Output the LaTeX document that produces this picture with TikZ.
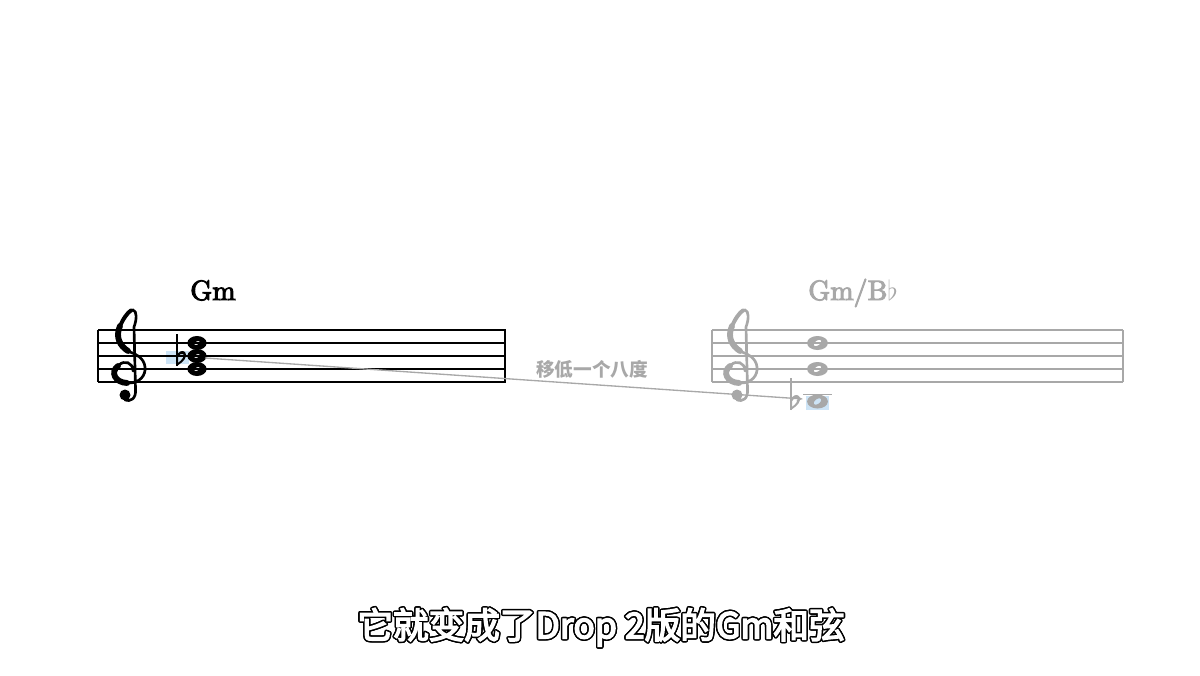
\documentclass[tikz,border=0pt]{standalone}
\usepackage{fontspec}
\usepackage{contour}
\usetikzlibrary{arrows.meta}
\newfontfamily\cjk{Noto Sans CJK SC}
\newfontfamily\cjksub{Noto Sans CJK SC}[FakeBold=4]
\newfontfamily\chordfont{lmroman10-regular.otf}[FakeBold=3.5]
\definecolor{staffgray}{RGB}{168,168,168}
\definecolor{hlblue}{RGB}{205,228,246}
\contourlength{1.1pt}
\tikzset{
  trebleclef/.pic={
    \draw[line width=2, line cap=round] (5,2) .. controls (5,-7) and (-4,-9) .. (-9,-4)
      .. controls (-18,2) and (-13,14) .. (1,14)
      .. controls (12,14) and (18,6) .. (17,-2)
      .. controls (16,-11) and (8,-15) .. (2,-17)
      .. controls (-8,-23) and (-13,-32) .. (-8,-43)
      .. controls (-4,-52) and (2,-60) .. (5,-59)
      .. controls (9,-58) and (9,-50) .. (6,-42)
      -- (7.5,20) .. controls (8.5,30) and (2,33) .. (-3,31);
    \draw[line width=4.4, line cap=round] (-10,-3) .. controls (-18,3) and (-13,13.5) .. (-1,14);
    \draw[line width=4.4, line cap=round] (0,-18) .. controls (-8,-23) and (-13,-32) .. (-8,-43);
    \draw[line width=3, line cap=round] (-8,-43) .. controls (-5,-50) and (0,-57) .. (3,-58.5);
    \fill (-3,26) circle [radius=5.5];
  },
  flatsign/.pic={
    \draw[line width=1.4] (0,1) -- (0,-31);
    \fill[even odd rule] (0,1) .. controls (6,-3) and (12,-9) .. (8,-13)
      .. controls (5,-15.5) and (1.5,-13) .. (0,-10) -- cycle
      (1.2,-2.2) .. controls (5,-5) and (8,-9) .. (6.3,-11)
      .. controls (4.8,-12.5) and (2,-10.5) .. (1.2,-8) -- cycle;
  },
  headbold/.pic={
    \fill[even odd rule] (0,0) ellipse [x radius=9.6, y radius=7]
      plot[domain=0:360, samples=30, variable=\u]
      ({2.9*cos(\u)*cos(30)+1.6*sin(\u)*sin(30)},{-2.9*cos(\u)*sin(30)+1.6*sin(\u)*cos(30)}) -- cycle;
  },
  headopen/.pic={
    \fill[even odd rule] (0,0) ellipse [x radius=10.4, y radius=7]
      plot[domain=0:360, samples=30, variable=\u]
      ({4.2*cos(\u)*cos(35)+2.4*sin(\u)*sin(35)},{-4.2*cos(\u)*sin(35)+2.4*sin(\u)*cos(35)}) -- cycle;
  },
  chordname/.style={font=\chordfont\fontsize{21}{24}\selectfont, anchor=base west, inner sep=0}
}
\begin{document}
\begin{tikzpicture}[x=0.75pt,y=-0.75pt]
                \useasboundingbox (0,0) rectangle (1200,675);
                \fill[hlblue] (166,351) rectangle (189,364);
                \fill[hlblue] (806,396) rectangle (829,410);
                \foreach \y in {330,343,356,369,382}
                  \draw[line width=1.1] (98,\y)--(506,\y);
                \draw[line width=1] (98,330)--(98,382);
                \draw[line width=2.2] (505,330)--(505,382);
                \pic (clefL) at (128,369) {trebleclef};
                \pic (flatL) at (177,365) {flatsign};
                \pic at (197,343) {headbold};
                \pic at (197,356) {headbold};
                \pic at (197,369) {headbold};
                \node[chordname] (gmL) at (190,300) {Gm};
                \begin{scope}[staffgray]
                \foreach \y in {330,343,356,369,382}
                  \draw[line width=1.1] (712,\y)--(1123,\y);
                \draw[line width=1.1] (712,330)--(712,382);
                \draw[line width=1.4] (1123,330)--(1123,382);
                \pic[staffgray] (clefR) at (740,369) {trebleclef};
                \draw[line width=1.1] (803,394.5)--(832,394.5);
                \pic[staffgray] (flatR) at (791,409) {flatsign};
                \pic[staffgray] at (817.5,343) {headopen};
                \pic[staffgray] at (817.5,369) {headopen};
                \pic[staffgray] at (817.5,401.5) {headopen};
                \node[chordname, text=staffgray] (gmR) at (808,300) {Gm/B$\flat$};
                \end{scope}
                \coordinate (bbSrc) at (205,358);
                \coordinate (bbDst) at (803,399);
                \draw[staffgray, line width=1, -{Stealth[length=5pt,width=4pt]}] (bbSrc)--(bbDst);
                \node[staffgray, font=\cjk\bfseries\fontsize{14}{16}\selectfont] (moveLbl) at (592,369) {移低一个八度};
                \node[font=\cjksub\fontsize{26.7}{30}\selectfont] (subtitle) at (601,628) {\contour{black}{\textcolor{white}{它就变成了Drop 2版的Gm和弦}}};
            \end{tikzpicture}
\end{document}
